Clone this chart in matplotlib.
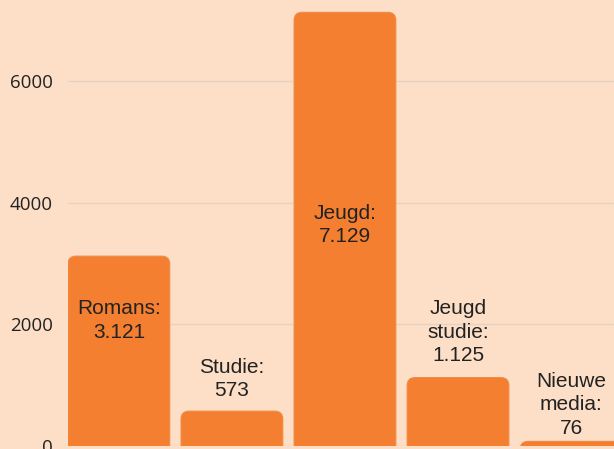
import matplotlib.pyplot as plt
from matplotlib.patches import FancyBboxPatch

categories = ["Romans", "Studie", "Jeugd", "Jeugd\nstudie", "Nieuwe\nmedia"]
values = [3121, 573, 7129, 1125, 76]
value_labels = ["3.121", "573", "7.129", "1.125", "76"]
inside = [True, False, True, False, False]

bg = "#FDDFC7"
bar_col = "#F47F30"
txt_col = "#222222"

fig = plt.figure(figsize=(6.14, 4.49), dpi=100, facecolor=bg)
ax = fig.add_axes([68 / 614, 3 / 449, 546 / 614, 446 / 449], facecolor=bg)

ax.set_xlim(-0.45, 4.38)
ax.set_ylim(0, 7332)

# rounded bars: x radius in data units, aspect so the corners look round in pixels
px_x = 113.0
px_y = 446 / 7332
r = 8 / px_x
aspect = (8 / px_y) / r
w = 0.9
for i, v in enumerate(values):
    p = FancyBboxPatch((i - w / 2 + r, -400 + r * aspect), w - 2 * r, v + 400 - 2 * r * aspect,
                       boxstyle="round,pad=%f,rounding_size=%f" % (r, r),
                       mutation_aspect=aspect, facecolor=bar_col,
                       edgecolor="#F08a45", linewidth=0.8, zorder=2)
    ax.add_patch(p)

inside_frac = {0: 0.66, 2: 0.51}
offsets = {1: 8, 3: 9, 4: 2.5}
for i, (c, v, lab) in enumerate(zip(categories, values, value_labels)):
    s = c + ":\n" + lab
    if inside[i]:
        ax.text(i, v * inside_frac[i], s, ha="center", va="center", fontsize=15,
                family="Liberation Sans", color=txt_col, linespacing=1.3, zorder=3)
    else:
        ax.annotate(s, (i, v), xytext=(0, offsets[i]), textcoords="offset points",
                    ha="center", va="bottom", fontsize=15, family="Liberation Sans",
                    color=txt_col, linespacing=1.3, zorder=3)

ax.set_yticks([0, 2000, 4000, 6000])
ax.set_xticks([])
ax.grid(axis="y", color="#E6D2C2", linewidth=1, zorder=0)
ax.set_axisbelow(True)
for s in ax.spines.values():
    s.set_visible(False)
ax.tick_params(axis="y", length=0, pad=11, labelsize=13.5, labelcolor=txt_col)
for t in ax.get_yticklabels():
    t.set_family("Open Sans")

fig.savefig("out.png", dpi=100, facecolor=bg)
